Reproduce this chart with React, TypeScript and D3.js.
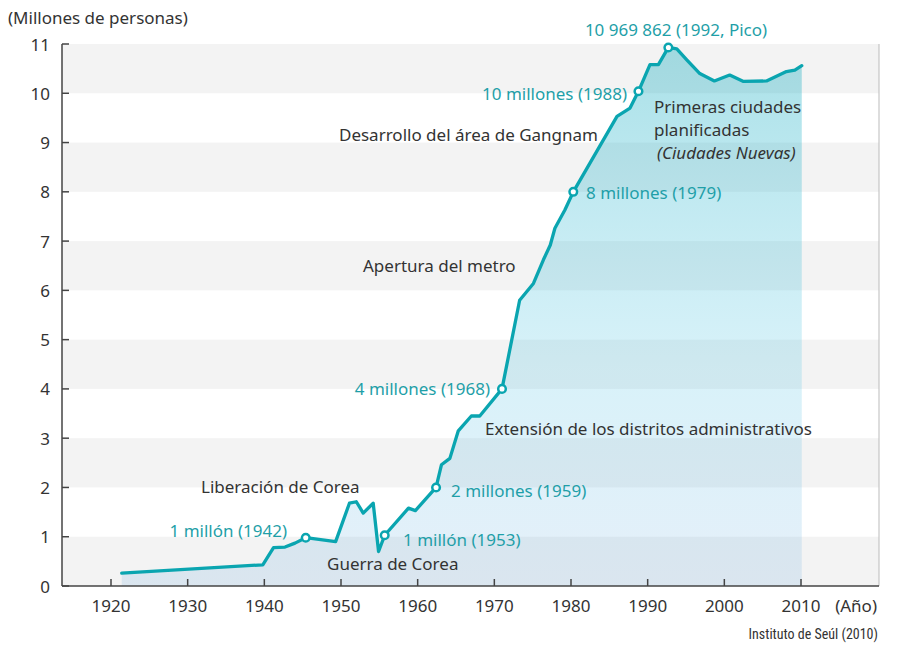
import React from "react";
import * as d3 from "d3";

// población de Seúl (millones)
const years = [1921.4, 1939.8, 1941.2, 1942.7, 1944.0, 1945.4, 1949.3, 1951.1, 1952.0, 1952.9, 1954.2, 1954.9, 1955.7, 1958.8, 1959.7, 1962.4, 1963.1, 1964.2, 1965.3, 1967.0, 1968.1, 1971.0, 1973.3, 1975.1, 1976.4, 1977.3, 1977.9, 1979.2, 1980.3, 1986.0, 1987.7, 1988.8, 1990.3, 1991.4, 1992.7, 1993.8, 1995.1, 1996.8, 1998.7, 2000.7, 2002.5, 2005.5, 2008.1, 2009.2, 2010.1];
const population = [0.26, 0.43, 0.78, 0.79, 0.87, 0.98, 0.9, 1.68, 1.71, 1.48, 1.68, 0.7, 1.03, 1.58, 1.53, 2.0, 2.46, 2.59, 3.15, 3.45, 3.45, 4.0, 5.8, 6.14, 6.62, 6.92, 7.26, 7.63, 8.0, 9.53, 9.7, 10.04, 10.58, 10.58, 10.93, 10.9, 10.68, 10.4, 10.25, 10.37, 10.24, 10.25, 10.44, 10.47, 10.56];

const markerYears = [1945.4, 1955.7, 1962.4, 1971.0, 1980.3, 1988.8, 1992.7];
const markerValues = [0.98, 1.03, 2.0, 4.0, 8.0, 10.04, 10.93];

const xTicks = [1920, 1930, 1940, 1950, 1960, 1970, 1980, 1990, 2000, 2010];
const yTicks = [0, 1, 2, 3, 4, 5, 6, 7, 8, 9, 10, 11];

const TEAL = "#0aa5b0";
const TEAL_TEXT = "#1f9fa8";
const DARK = "#333";
const FONT = "'Noto Sans', 'Open Sans', sans-serif";
const FS = 17;

export default function App() {
  const left = 62, right = 879, top = 44, bottom = 586;
  const x = d3.scaleLinear().domain([1920, 2010]).range([111, 801]);
  const y = d3.scaleLinear().domain([0, 11]).range([bottom, top]);

  const data = years.map((yr, i) => ({ yr, v: population[i] }));
  const line = d3.line<{ yr: number; v: number }>().x(d => x(d.yr)).y(d => y(d.v));
  const area = d3.area<{ yr: number; v: number }>().x(d => x(d.yr)).y0(y(0)).y1(d => y(d.v));

  const bands = d3.range(0, 11, 2);

  const label = (txt: string, lx: number, ly: number, color: string, anchor = "start", italic = false) => (
    <text x={lx} y={ly} fill={color} fontSize={FS} textAnchor={anchor} dominantBaseline="central"
      fontStyle={italic ? "italic" : "normal"}>{txt}</text>
  );

  return (
    <svg width={910} height={650} style={{ position: "absolute", left: 0, top: 0, fontFamily: FONT }}>
      <defs>
        <linearGradient id="fill" gradientUnits="userSpaceOnUse" x1={0} y1={y(0)} x2={0} y2={y(11)}>
          <stop offset="0" stopColor="rgb(90,160,220)" stopOpacity={0.16} />
          <stop offset="0.4" stopColor="rgb(60,190,225)" stopOpacity={0.2} />
          <stop offset="1" stopColor="rgb(0,165,185)" stopOpacity={0.34} />
        </linearGradient>
      </defs>
      <rect width={910} height={650} fill="#fff" />
      {bands.map(b => (
        <rect key={b} x={left} width={right - left} y={y(b + 1)} height={y(b) - y(b + 1)} fill="#f3f3f3" />
      ))}
      <line x1={right} x2={right} y1={top} y2={bottom} stroke="#bbb" strokeWidth={1} />

      <path d={area(data) || ""} fill="url(#fill)" />
      <path d={line(data) || ""} fill="none" stroke={TEAL} strokeWidth={3.3} strokeLinejoin="round" strokeLinecap="round" />
      {markerYears.map((yr, i) => (
        <circle key={yr} cx={x(yr)} cy={y(markerValues[i])} r={3.8} fill="#fff" stroke={TEAL} strokeWidth={2.5} />
      ))}

      {/* ejes */}
      <line x1={left} x2={left} y1={top} y2={bottom} stroke="#444" strokeWidth={1.5} />
      <line x1={left} x2={right} y1={bottom} y2={bottom} stroke="#444" strokeWidth={1.5} />
      {yTicks.map(t => (
        <g key={t}>
          <line x1={left} x2={left + 7} y1={y(t)} y2={y(t)} stroke="#444" strokeWidth={1.5} />
          <text x={50} y={y(t)} textAnchor="end" dominantBaseline="central" fontSize={FS} fill={DARK}>{t}</text>
        </g>
      ))}
      {xTicks.map(t => (
        <g key={t}>
          <line x1={x(t)} x2={x(t)} y1={bottom} y2={bottom - 7} stroke="#444" strokeWidth={1.5} />
          <text x={x(t)} y={605} textAnchor="middle" dominantBaseline="central" fontSize={FS} fill={DARK}>{t}</text>
        </g>
      ))}
      <text x={877} y={605} textAnchor="end" dominantBaseline="central" fontSize={FS} fill={DARK}>(Año)</text>
      <text x={8} y={17} dominantBaseline="central" fontSize={FS} fill={DARK}>(Millones de personas)</text>
      <text x={878} y={634} textAnchor="end" dominantBaseline="central" fontSize={14} fill={DARK}
        style={{ fontFamily: "'Liberation Sans Narrow', 'Roboto', sans-serif", fontStretch: "condensed" }}>Instituto de Seúl (2010)</text>

      {/* anotaciones */}
      {label("10 969 862 (1992, Pico)", 676, 29, TEAL_TEXT, "middle")}
      {label("10 millones (1988)", 627, 93, TEAL_TEXT, "end")}
      {label("Primeras ciudades", 654, 106, DARK)}
      {label("planificadas", 654, 129, DARK)}
      {label("(Ciudades Nuevas)", 657, 152, DARK, "start", true)}
      {label("Desarrollo del área de Gangnam", 598, 134, DARK, "end")}
      {label("8 millones (1979)", 586, 192, TEAL_TEXT)}
      {label("Apertura del metro", 363, 265, DARK)}
      {label("4 millones (1968)", 490, 388, TEAL_TEXT, "end")}
      {label("Extensión de los distritos administrativos", 485, 428, DARK)}
      {label("2 millones (1959)", 451, 490, TEAL_TEXT)}
      {label("Liberación de Corea", 201, 486, DARK)}
      {label("1 millón (1942)", 287, 530, TEAL_TEXT, "end")}
      {label("1 millón (1953)", 403, 539, TEAL_TEXT)}
      {label("Guerra de Corea", 327, 563, DARK)}
    </svg>
  );
}
